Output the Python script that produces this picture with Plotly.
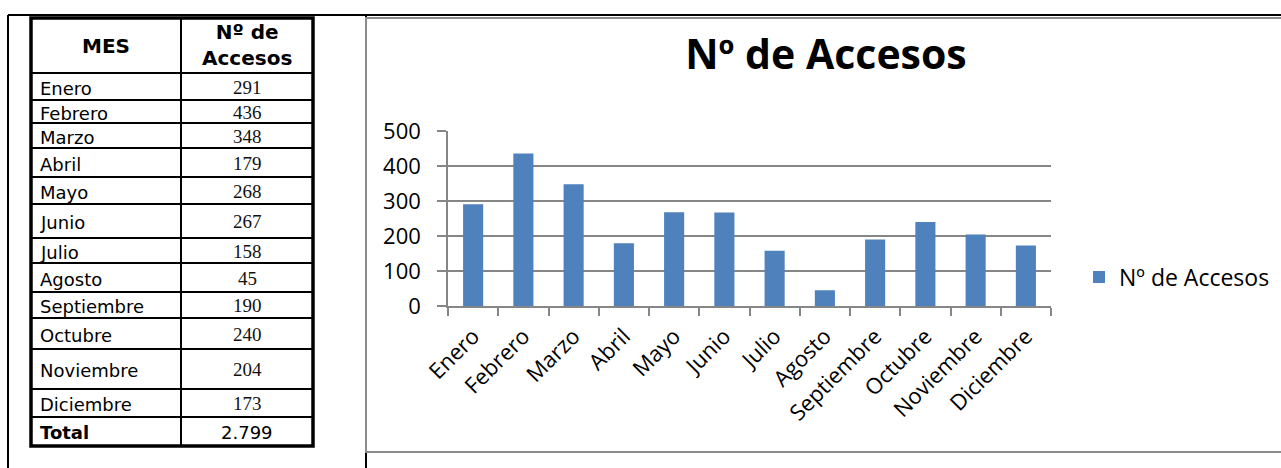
import plotly.graph_objects as go

W, H = 1281, 468

meses = ["Enero", "Febrero", "Marzo", "Abril", "Mayo", "Junio", "Julio",
         "Agosto", "Septiembre", "Octubre", "Noviembre", "Diciembre"]
accesos = [291, 436, 348, 179, 268, 267, 158, 45, 190, 240, 204, 173]
serie = "Nº de Accesos"
header_mes = "MES"
header_acc = "Nº de<br>Accesos"
total_label = "Total"
total = sum(accesos)
total_text = f"{total:,}".replace(",", ".")

# table row boundaries (pixels from top)
row_edges = [18, 73, 100, 123, 148, 177, 204, 238, 263, 292, 318, 349, 389, 417, 446]
tab_left, tab_mid, tab_right = 31, 181, 313


def px(x):
    return x / W


def py(y):
    return 1 - y / H


fig = go.Figure()
fig.add_trace(go.Bar(x=meses, y=accesos, name=serie, marker_color="#4F81BD",
                     marker_line_width=0, showlegend=True))

shapes = []
annotations = []

# frame lines (black)
shapes.append(dict(type="line", xref="paper", yref="paper", x0=px(8), x1=px(W + 2),
                   y0=py(15), y1=py(15), line=dict(color="black", width=2), layer="below"))
shapes.append(dict(type="line", xref="paper", yref="paper", x0=px(8), x1=px(8),
                   y0=py(15), y1=py(H + 2), line=dict(color="black", width=2), layer="below"))
shapes.append(dict(type="line", xref="paper", yref="paper", x0=px(366), x1=px(366),
                   y0=py(15), y1=py(H + 2), line=dict(color="black", width=2), layer="below"))
# chart area border (grey, white fill)
shapes.append(dict(type="rect", xref="paper", yref="paper", x0=px(366), x1=px(W + 5),
                   y0=py(18), y1=py(452), line=dict(color="#8C8C8C", width=2),
                   fillcolor="white", layer="below"))

# table grid
for y in row_edges[1:-1]:
    shapes.append(dict(type="line", xref="paper", yref="paper", x0=px(tab_left), x1=px(tab_right),
                       y0=py(y), y1=py(y), line=dict(color="black", width=2)))
shapes.append(dict(type="line", xref="paper", yref="paper", x0=px(tab_mid), x1=px(tab_mid),
                   y0=py(row_edges[0]), y1=py(row_edges[-1]), line=dict(color="black", width=2)))
shapes.append(dict(type="rect", xref="paper", yref="paper", x0=px(tab_left), x1=px(tab_right),
                   y0=py(row_edges[0]), y1=py(row_edges[-1]), line=dict(color="black", width=3.5)))

sans = "DejaVu Sans"
serif = "Liberation Serif"

# header
hc = (row_edges[0] + row_edges[1]) / 2
annotations.append(dict(xref="paper", yref="paper", x=px((tab_left + tab_mid) / 2), y=py(hc + 1),
                        text=f"<b>{header_mes}</b>", showarrow=False, xanchor="center", yanchor="middle",
                        font=dict(family=sans, size=20, color="black")))
annotations.append(dict(xref="paper", yref="paper", x=px((tab_mid + tab_right) / 2), y=py(hc),
                        text=f"<b>{header_acc}</b>", showarrow=False, xanchor="center", yanchor="middle",
                        font=dict(family=sans, size=20, color="black")))

for i, (m, v) in enumerate(zip(meses, accesos)):
    yc = (row_edges[i + 1] + row_edges[i + 2]) / 2 + 1.5
    annotations.append(dict(xref="paper", yref="paper", x=px(38), y=py(yc), text=m, showarrow=False,
                            xanchor="left", yanchor="middle",
                            font=dict(family=sans, size=18, color="black")))
    annotations.append(dict(xref="paper", yref="paper", x=px((tab_mid + tab_right) / 2), y=py(yc - 1),
                            text=str(v), showarrow=False, xanchor="center", yanchor="middle",
                            font=dict(family=serif, size=19, color="#111111")))

yc = (row_edges[-2] + row_edges[-1]) / 2 + 1
annotations.append(dict(xref="paper", yref="paper", x=px(38), y=py(yc), text=f"<b>{total_label}</b>",
                        showarrow=False, xanchor="left", yanchor="middle",
                        font=dict(family=sans, size=18, color="black")))
annotations.append(dict(xref="paper", yref="paper", x=px((tab_mid + tab_right) / 2), y=py(yc),
                        text=total_text, showarrow=False, xanchor="center", yanchor="middle",
                        font=dict(family=sans, size=18, color="black")))

grey = "#868686"
cfont = "Open Sans"

fig.update_layout(
    width=W, height=H,
    margin=dict(l=0, r=0, t=0, b=0, autoexpand=False),
    paper_bgcolor="white", plot_bgcolor="rgba(0,0,0,0)",
    title=dict(text=f"<b>{serie}</b>", x=px(826), y=py(55), xanchor="center", yanchor="middle",
               font=dict(family=cfont, size=41, color="black")),
    bargap=0.6,
    shapes=shapes,
    annotations=annotations,
    showlegend=True,
    legend=dict(x=px(1079), y=py(277), xanchor="left", yanchor="middle",
                font=dict(family=cfont, size=23, color="black"), bgcolor="rgba(0,0,0,0)",
                itemwidth=30),
    xaxis=dict(domain=[px(448), px(1051)], showline=True, linecolor=grey, linewidth=1.5,
               ticks="outside", tickson="boundaries", ticklen=8, tickcolor=grey, tickwidth=1.5,
               tickangle=-45, tickfont=dict(family=cfont, size=22, color="black"),
               ticklabelstandoff=7, showgrid=False, fixedrange=True),
    yaxis=dict(domain=[py(306), py(131)], range=[0, 500], dtick=100, showline=True,
               linecolor=grey, linewidth=1.5, ticks="outside", ticklen=9, tickcolor=grey,
               tickwidth=1.5, showgrid=True, gridcolor=grey, gridwidth=1.5, zeroline=False,
               tickfont=dict(family=cfont, size=22, color="black"), ticklabelstandoff=12,
               fixedrange=True),
)

fig.write_html("out.html", config={"displayModeBar": False},
               post_script="document.body.style.margin='0px';document.body.style.overflow='hidden';")
